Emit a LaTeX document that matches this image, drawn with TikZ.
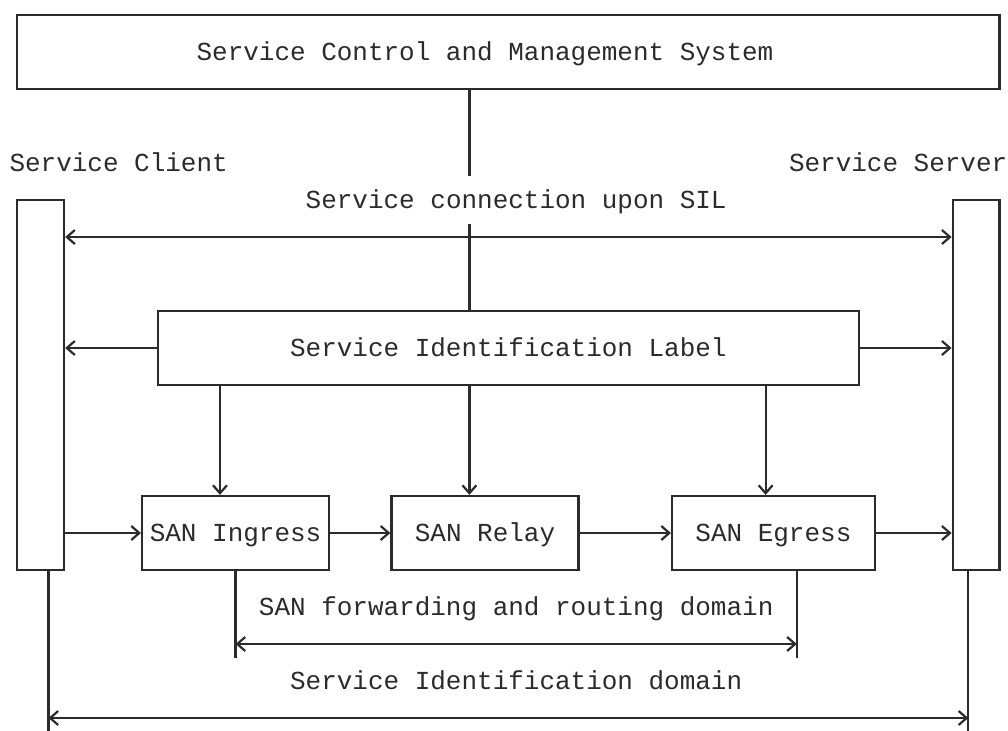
\documentclass[tikz,border=0pt]{standalone}
\usepackage{fontspec}
\newfontfamily\diagfont{Liberation Mono}
\usetikzlibrary{positioning,arrows.meta,calc}
\definecolor{ink}{HTML}{2B2B2B}
\newcommand{\colw}{7.795pt}
\newcommand{\rowh}{18.5pt}

\begin{document}
\begin{tikzpicture}[
        x=\colw, y=-\rowh,
        every node/.style={font=\diagfont\fontsize{12.99pt}{15pt}\selectfont, text=ink, inner sep=0pt, text height=8.6pt, text depth=0pt},
        box/.style={draw=ink, line width=1.1pt, minimum height=2*\rowh},
        endbox/.style={draw=ink, line width=1.1pt, minimum width=3*\colw, minimum height=10*\rowh},
        link/.style={draw=ink, line width=1.1pt},
        arrow/.style={link, -{Straight Barb[length=4pt,width=7pt]}},
        biarrow/.style={link, {Straight Barb[length=4pt,width=7pt]}-{Straight Barb[length=4pt,width=7pt]}}
    ]
        \useasboundingbox (-8.65pt,7.5pt) rectangle (495.35pt,-357.5pt);

        % Control and management system on top
        \node[box, minimum width=63*\colw] (scms) at (31.5,1) {};
        \node (scmsLbl) at (30,1) {Service Control and Management System};

        % Client and server ends
        \node[endbox] (client) at (1.5,10) {};
        \node[endbox] (server) at (61.5,10) {};
        \node (clientLbl) at (6.5,4) {Service Client};
        \node (serverLbl) at (56.5,4) {Service Server};
        \node[minimum height=24pt] (conn) at (32,5) {Service connection upon SIL};

        % Label box
        \node[box, minimum width=45*\colw] (sil) at (31.5,9) {Service Identification Label};

        % SAN chain
        \node[box, minimum width=12*\colw] (ingress) at (14,14) {SAN Ingress};
        \node[box, minimum width=12*\colw] (relay) at (30,14) {SAN Relay};
        \node[box, minimum width=13*\colw] (egress) at (48.5,14) {SAN Egress};

        % Domain labels
        \node (fwdLbl) at (32,16) {SAN forwarding and routing domain};
        \node (sidLbl) at (32,18) {Service Identification domain};

        % Columns and rows used by the links
        \coordinate (colA) at (13,0);
        \coordinate (colB) at (29,0);
        \coordinate (colC) at (48,0);
        \coordinate (connRow) at (0,6);

        % Control line down to the label box
        \draw[link] (scms.south -| colB) -- (conn.north -| colB);
        \draw[link] (conn.south -| colB) -- (sil.north -| colB);

        % Service connection upon SIL
        \draw[biarrow] (client.east |- connRow) -- (server.west |- connRow);

        % Label box to both ends
        \draw[arrow] (sil.west) -- (client.east |- sil.west);
        \draw[arrow] (sil.east) -- (server.west |- sil.east);

        % Label box to SAN nodes
        \draw[arrow] (sil.south -| colA) -- (ingress.north -| colA);
        \draw[arrow] (sil.south -| colB) -- (relay.north -| colB);
        \draw[arrow] (sil.south -| colC) -- (egress.north -| colC);

        % Data path
        \draw[arrow] (client.east |- ingress.west) -- (ingress.west);
        \draw[arrow] (ingress.east) -- (relay.west);
        \draw[arrow] (relay.east) -- (egress.west);
        \draw[arrow] (egress.east) -- (server.west |- egress.east);

        % SAN forwarding and routing domain
        \coordinate (fwdL) at (14,17);
        \coordinate (fwdR) at (50,17);
        \draw[link] (ingress.south -| fwdL) -- ([yshift=-7pt]fwdL);
        \draw[link] (egress.south -| fwdR) -- ([yshift=-7pt]fwdR);
        \draw[biarrow] (fwdL) -- (fwdR);

        % Service Identification domain
        \coordinate (sidL) at (2,19);
        \coordinate (sidR) at (61,19);
        \draw[link] (client.south -| sidL) -- ([yshift=-7pt]sidL);
        \draw[link] (server.south -| sidR) -- ([yshift=-7pt]sidR);
        \draw[biarrow] (sidL) -- (sidR);

    \end{tikzpicture}
\end{document}
